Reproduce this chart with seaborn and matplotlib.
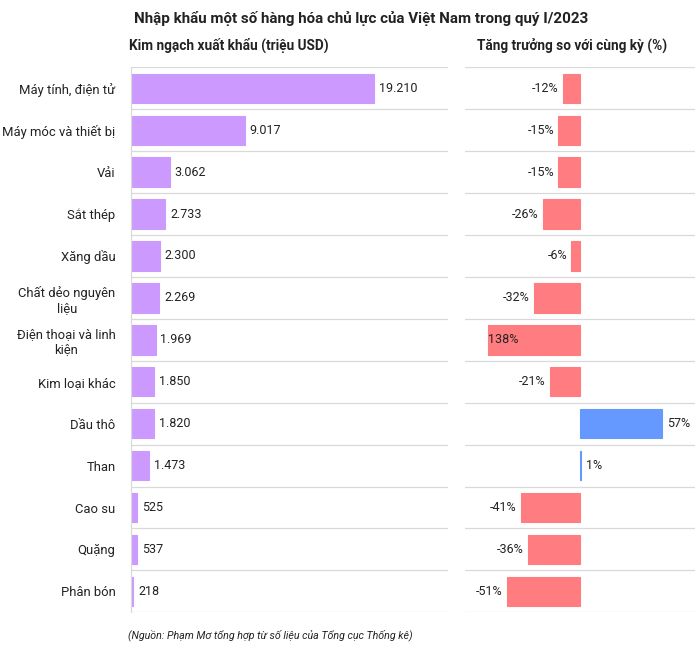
import matplotlib
matplotlib.use("Agg")
import matplotlib.pyplot as plt
import seaborn as sns
import pandas as pd

categories = ["Máy tính, điện tử", "Máy móc và thiết bị", "Vải", "Sắt thép", "Xăng dầu",
              "Chất dẻo nguyên\nliệu", "Điện thoại và linh\nkiện", "Kim loại khác", "Dầu thô",
              "Than", "Cao su", "Quặng", "Phân bón"]
import_values = [19210, 9017, 3062, 2733, 2300, 2269, 1969, 1850, 1820, 1473, 525, 537, 218]
value_labels = ["19.210", "9.017", "3.062", "2.733", "2.300", "2.269", "1.969", "1.850",
                "1.820", "1.473", "525", "537", "218"]
growth = [-12, -15, -15, -26, -6, -32, -64, -21, 57, 1, -41, -36, -51]
growth_labels = ["-12%", "-15%", "-15%", "-26%", "-6%", "-32%", "138%", "-21%", "57%",
                 "1%", "-41%", "-36%", "-51%"]

title = "Nhập khẩu một số hàng hóa chủ lực của Việt Nam trong quý I/2023"
left_title = "Kim ngạch xuất khẩu (triệu USD)"
right_title = "Tăng trưởng so với cùng kỳ (%)"
source = "(Nguồn: Phạm Mơ tổng hợp từ số liệu của Tổng cục Thống kê)"

sns.set_theme(style="white")
plt.rcParams["font.family"] = ["Roboto", "DejaVu Sans"]

PURPLE = "#CC99FF"
RED = "#FF7C80"
BLUE = "#6699FF"
GRID = "#D9D9D9"
TXT = "#222222"

df = pd.DataFrame({
    "cat": categories,
    "val": import_values,
    "growth": growth,
    "sign": ["pos" if g >= 0 else "neg" for g in growth],
})

fig = plt.figure(figsize=(7.0, 6.47), dpi=100)
axl = fig.add_axes([0.1867, 0.0536, 0.4529, 0.8423])
axr = fig.add_axes([0.6643, 0.0536, 0.3286, 0.8423])

sns.barplot(data=df, x="val", y="cat", ax=axl, color=PURPLE, width=0.7,
            saturation=1, orient="h")
sns.barplot(data=df, x="growth", y="cat", hue="sign", ax=axr,
            palette={"neg": RED, "pos": BLUE}, width=0.7, saturation=1,
            dodge=False, legend=False, orient="h")

for ax in (axl, axr):
    for p in ax.patches:
        p.set_edgecolor(p.get_facecolor())
        p.set_linewidth(0.8)

n = len(categories)
for ax in (axl, axr):
    ax.set_ylim(n - 0.5, -0.5)
    ax.set_xlabel("")
    ax.set_ylabel("")
    ax.set_xticks([])
    for s in ["top", "right", "bottom"]:
        ax.spines[s].set_visible(False)
    for i in range(n + 1):
        ax.axhline(i - 0.5, color=GRID, lw=0.9, zorder=0)

axl.set_xlim(0, 25000)
axl.spines["left"].set_color(GRID)
axl.spines["left"].set_linewidth(0.9)
axl.tick_params(axis="y", length=0, pad=11)
axl.set_yticks(range(n))
axl.set_yticklabels(categories, fontsize=9.4, color=TXT)
for t in axl.get_yticklabels():
    t.set_multialignment("center")

for i, (v, lab) in enumerate(zip(import_values, value_labels)):
    axl.text(v + 380, i, lab, va="center", ha="left", fontsize=9, color=TXT)

axr.set_xlim(-80, 80)
axr.spines["left"].set_visible(False)
axr.set_yticks([])

for i, (g, lab) in enumerate(zip(growth, growth_labels)):
    if lab == "138%":
        axr.text(g, i, lab, va="center", ha="left", fontsize=9, color=TXT)
    elif g < 0:
        axr.text(g - 3, i, lab, va="center", ha="right", fontsize=9, color=TXT)
    else:
        axr.text(g + 3.5, i, lab, va="center", ha="left", fontsize=9, color=TXT)

fig.text(0.516, 0.972, title, ha="center", va="center", fontsize=10.9,
         fontweight="bold", color=TXT)
fig.text(0.184, 0.930, left_title, ha="left", va="center", fontsize=9.8,
         fontweight="bold", color=TXT)
fig.text(0.681, 0.930, right_title, ha="left", va="center", fontsize=9.8,
         fontweight="bold", color=TXT)
fig.text(0.183, 0.018, source, ha="left", va="center", fontsize=7.7,
         fontstyle="italic", color=TXT)

fig.savefig("out.png", dpi=100, facecolor="white")
